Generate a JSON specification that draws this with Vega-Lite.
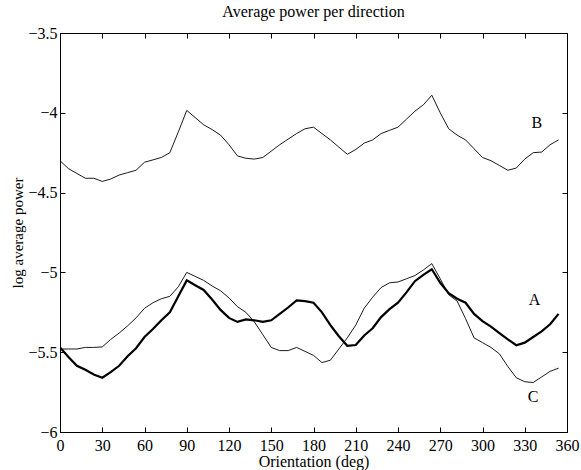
{
  "$schema": "https://vega.github.io/schema/vega-lite/v6.json",
  "width": 507,
  "height": 399,
  "autosize": {"type": "none"},
  "padding": {"left": 60, "top": 33, "right": 14, "bottom": 38},
  "background": "white",
  "config": {
    "font": "Liberation Serif",
    "view": {"stroke": "black", "strokeWidth": 1},
    "axis": {
      "grid": false,
      "domain": false,
      "tickColor": "black",
      "tickSize": -5,
      "tickWidth": 1,
      "labelColor": "black",
      "labelFont": "Liberation Serif",
      "labelFontSize": 16,
      "titleFont": "Liberation Serif",
      "titleFontSize": 16,
      "titleFontWeight": "normal",
      "titleColor": "black"
    }
  },
  "title": {
    "text": "Average power per direction",
    "font": "Liberation Serif",
    "fontSize": 16,
    "fontWeight": "normal",
    "color": "black",
    "offset": 5
  },
  "datasets": {
    "series": [
      {"deg": 0, "A": -5.47, "B": -4.30, "C": -5.48},
      {"deg": 6, "A": -5.53, "B": -4.35, "C": -5.48},
      {"deg": 12, "A": -5.585, "B": -4.38, "C": -5.48},
      {"deg": 18, "A": -5.61, "B": -4.41, "C": -5.47},
      {"deg": 24, "A": -5.64, "B": -4.41, "C": -5.47},
      {"deg": 30, "A": -5.66, "B": -4.43, "C": -5.467},
      {"deg": 36, "A": -5.625, "B": -4.415, "C": -5.42},
      {"deg": 42, "A": -5.585, "B": -4.39, "C": -5.38},
      {"deg": 48, "A": -5.525, "B": -4.375, "C": -5.335},
      {"deg": 54, "A": -5.475, "B": -4.36, "C": -5.285},
      {"deg": 60, "A": -5.405, "B": -4.31, "C": -5.225},
      {"deg": 66, "A": -5.355, "B": -4.295, "C": -5.19},
      {"deg": 72, "A": -5.30, "B": -4.28, "C": -5.165},
      {"deg": 78, "A": -5.25, "B": -4.25, "C": -5.15},
      {"deg": 84, "A": -5.15, "B": -4.12, "C": -5.09},
      {"deg": 90, "A": -5.05, "B": -3.985, "C": -5.00},
      {"deg": 96, "A": -5.08, "B": -4.03, "C": -5.025},
      {"deg": 102, "A": -5.11, "B": -4.075, "C": -5.05},
      {"deg": 108, "A": -5.17, "B": -4.105, "C": -5.085},
      {"deg": 114, "A": -5.235, "B": -4.14, "C": -5.115},
      {"deg": 120, "A": -5.285, "B": -4.20, "C": -5.16},
      {"deg": 126, "A": -5.31, "B": -4.27, "C": -5.215},
      {"deg": 132, "A": -5.295, "B": -4.285, "C": -5.25},
      {"deg": 138, "A": -5.30, "B": -4.29, "C": -5.31},
      {"deg": 144, "A": -5.31, "B": -4.28, "C": -5.39},
      {"deg": 150, "A": -5.30, "B": -4.24, "C": -5.47},
      {"deg": 156, "A": -5.26, "B": -4.20, "C": -5.49},
      {"deg": 162, "A": -5.22, "B": -4.165, "C": -5.49},
      {"deg": 168, "A": -5.175, "B": -4.13, "C": -5.47},
      {"deg": 174, "A": -5.18, "B": -4.10, "C": -5.495},
      {"deg": 180, "A": -5.19, "B": -4.09, "C": -5.52},
      {"deg": 186, "A": -5.25, "B": -4.13, "C": -5.565},
      {"deg": 192, "A": -5.33, "B": -4.17, "C": -5.55},
      {"deg": 198, "A": -5.40, "B": -4.215, "C": -5.48},
      {"deg": 204, "A": -5.46, "B": -4.26, "C": -5.41},
      {"deg": 210, "A": -5.455, "B": -4.23, "C": -5.33},
      {"deg": 216, "A": -5.395, "B": -4.19, "C": -5.225},
      {"deg": 222, "A": -5.35, "B": -4.17, "C": -5.155},
      {"deg": 228, "A": -5.28, "B": -4.13, "C": -5.095},
      {"deg": 234, "A": -5.23, "B": -4.11, "C": -5.065},
      {"deg": 240, "A": -5.19, "B": -4.09, "C": -5.06},
      {"deg": 246, "A": -5.125, "B": -4.04, "C": -5.04},
      {"deg": 252, "A": -5.055, "B": -3.99, "C": -5.02},
      {"deg": 258, "A": -5.015, "B": -3.95, "C": -4.985},
      {"deg": 264, "A": -4.98, "B": -3.89, "C": -4.945},
      {"deg": 270, "A": -5.065, "B": -4.00, "C": -5.04},
      {"deg": 276, "A": -5.13, "B": -4.10, "C": -5.14},
      {"deg": 282, "A": -5.165, "B": -4.14, "C": -5.18},
      {"deg": 288, "A": -5.19, "B": -4.17, "C": -5.29},
      {"deg": 294, "A": -5.26, "B": -4.225, "C": -5.41},
      {"deg": 300, "A": -5.305, "B": -4.28, "C": -5.44},
      {"deg": 306, "A": -5.34, "B": -4.30, "C": -5.47},
      {"deg": 312, "A": -5.38, "B": -4.33, "C": -5.51},
      {"deg": 318, "A": -5.42, "B": -4.36, "C": -5.59},
      {"deg": 324, "A": -5.456, "B": -4.346, "C": -5.66},
      {"deg": 330, "A": -5.44, "B": -4.29, "C": -5.685},
      {"deg": 336, "A": -5.405, "B": -4.25, "C": -5.69},
      {"deg": 342, "A": -5.37, "B": -4.246, "C": -5.655},
      {"deg": 348, "A": -5.325, "B": -4.20, "C": -5.62},
      {"deg": 354, "A": -5.26, "B": -4.17, "C": -5.60}
    ],
    "labels": [
      {"deg": 338.5, "value": -4.065, "label": "B"},
      {"deg": 337, "value": -5.17, "label": "A"},
      {"deg": 336, "value": -5.78, "label": "C"}
    ]
  },
  "layer": [
    {
      "data": {"name": "series"},
      "transform": [{"fold": ["A", "B", "C"], "as": ["series", "value"]}],
      "mark": {"type": "line", "color": "black", "clip": true},
      "encoding": {
        "x": {
          "field": "deg", "type": "quantitative",
          "scale": {"domain": [0, 360], "nice": false, "zero": false},
          "axis": {"orient": "bottom", "values": [0,30,60,90,120,150,180,210,240,270,300,330,360], "labelPadding": 10, "title": "Orientation (deg)", "titlePadding": 0, "labelFlush": false}
        },
        "y": {
          "field": "value", "type": "quantitative",
          "scale": {"domain": [-6, -3.5], "nice": false, "zero": false},
          "axis": {"orient": "left", "values": [-6,-5.5,-5,-4.5,-4,-3.5], "format": "~g", "labelPadding": 8, "title": "log average power", "titleFontSize": 15, "titlePadding": 2}
        },
        "detail": {"field": "series"},
        "strokeWidth": {"field": "series", "type": "nominal", "scale": {"type": "ordinal", "domain": ["A", "B", "C"], "range": [2.2, 0.9, 0.9]}, "legend": null}
      }
    },
    {
      "data": {"name": "labels"},
      "mark": {"type": "text", "font": "Liberation Serif", "fontSize": 16, "color": "black", "align": "center", "baseline": "middle"},
      "encoding": {
        "x": {
          "field": "deg", "type": "quantitative",
          "axis": {"orient": "top", "values": [0,30,60,90,120,150,180,210,240,270,300,330,360], "labels": false, "title": null}
        },
        "y": {
          "field": "value", "type": "quantitative",
          "axis": {"orient": "right", "values": [-6,-5.5,-5,-4.5,-4,-3.5], "labels": false, "title": null}
        },
        "text": {"field": "label"}
      }
    }
  ],
  "resolve": {"axis": {"x": "independent", "y": "independent"}}
}
